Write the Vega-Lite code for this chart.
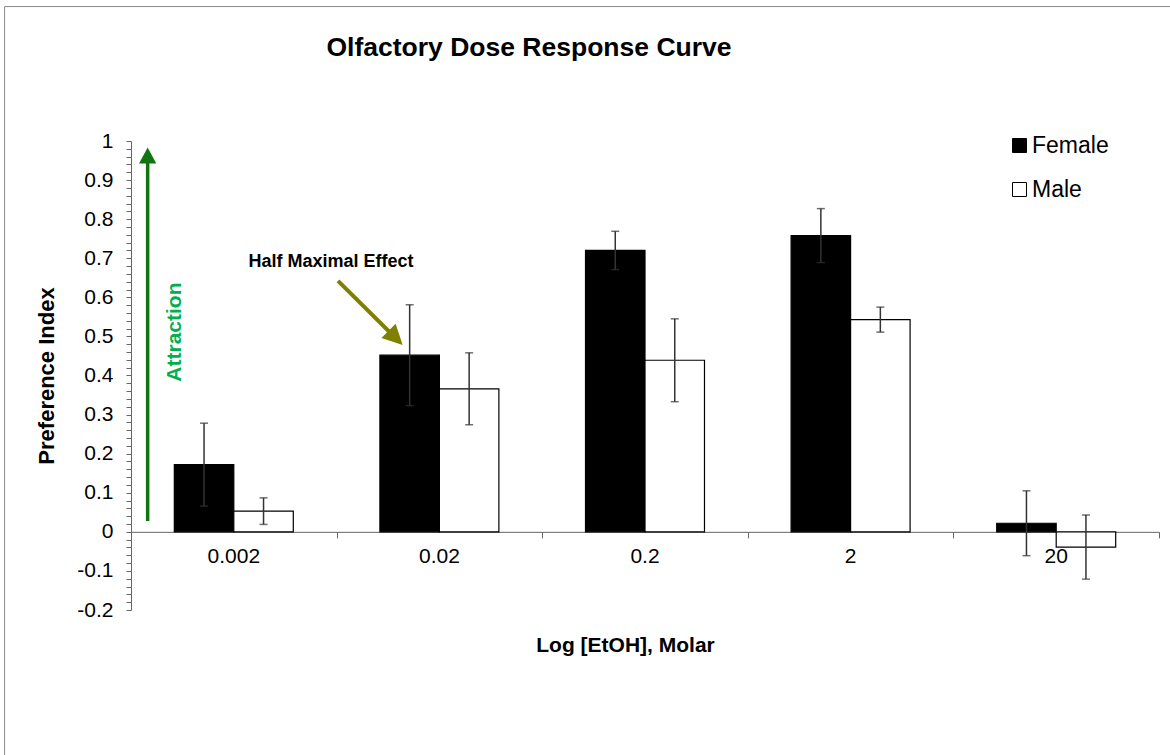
{
  "$schema": "https://vega.github.io/schema/vega-lite/v6.json",
  "width": 1028,
  "height": 469,
  "autosize": {"type": "none"},
  "padding": {"left": 131, "top": 141, "right": 11, "bottom": 145},
  "background": "white",
  "config": {
    "font": "Liberation Sans",
    "view": {"stroke": null},
    "axis": {"labelColor": "#000", "titleColor": "#000", "domainColor": "#666", "tickColor": "#666", "grid": false}
  },
  "title": {
    "text": "Olfactory Dose Response Curve",
    "fontSize": 26.5,
    "fontWeight": "bold",
    "color": "#000",
    "anchor": "middle",
    "frame": "group",
    "dx": -116,
    "offset": -55
  },
  "datasets": {
    "prefs": [
      {"dose": "0.002", "sex": "Female", "value": 0.172, "lo": 0.066, "hi": 0.278},
      {"dose": "0.002", "sex": "Male", "value": 0.053, "lo": 0.019, "hi": 0.087},
      {"dose": "0.02", "sex": "Female", "value": 0.452, "lo": 0.323, "hi": 0.581},
      {"dose": "0.02", "sex": "Male", "value": 0.366, "lo": 0.274, "hi": 0.458},
      {"dose": "0.2", "sex": "Female", "value": 0.72, "lo": 0.671, "hi": 0.769},
      {"dose": "0.2", "sex": "Male", "value": 0.439, "lo": 0.333, "hi": 0.545},
      {"dose": "2", "sex": "Female", "value": 0.758, "lo": 0.689, "hi": 0.827},
      {"dose": "2", "sex": "Male", "value": 0.543, "lo": 0.511, "hi": 0.575},
      {"dose": "20", "sex": "Female", "value": 0.022, "lo": -0.061, "hi": 0.105},
      {"dose": "20", "sex": "Male", "value": -0.039, "lo": -0.121, "hi": 0.043}
    ],
    "notes": [
      {"kind": "frame", "at": -0.615, "at2": 5.1, "level": 1.344, "level2": 1.344},
      {"kind": "frame", "at": -0.615, "at2": -0.615, "level": 1.344, "level2": -0.6},
      {"kind": "shaft", "at": 0.081, "at2": 0.081, "level": 0.028, "level2": 0.945},
      {"kind": "head", "at": 0.081, "level": 0.963},
      {"kind": "attraction", "at": 0.216, "level": 0.511, "label": "Attraction"},
      {"kind": "caption", "at": 0.973, "level": 0.691, "label": "Half Maximal Effect"},
      {"kind": "pointer", "at": 1.007, "at2": 1.287, "level": 0.642, "level2": 0.496},
      {"kind": "pointerhead", "at": 1.287, "level": 0.496}
    ]
  },
  "layer": [
    {
      "data": {"name": "prefs"},
      "mark": {"type": "bar", "stroke": "#000", "strokeWidth": 1.2},
      "encoding": {
        "x": {
          "field": "dose", "type": "nominal", "sort": null,
          "scale": {"paddingInner": 0, "paddingOuter": 0},
          "axis": {
            "orient": "bottom", "offset": -78.17, "ticks": false, "domain": true,
            "labelFontSize": 21, "labelPadding": 14, "labelAngle": 0,
            "title": "Log [EtOH], Molar", "titleFontSize": 21, "titleFontWeight": "bold",
            "titleX": 494, "titleY": 114, "titleAlign": "center", "titleBaseline": "middle"
          }
        },
        "xOffset": {"field": "sex", "type": "nominal", "sort": ["Female", "Male"], "scale": {"paddingInner": 0, "paddingOuter": 0.728}},
        "y": {
          "field": "value", "type": "quantitative",
          "scale": {"domain": [-0.2, 1], "nice": false, "zero": false},
          "axis": {
            "values": [-0.2, -0.18, -0.16, -0.14, -0.12, -0.1, -0.08, -0.06, -0.04, -0.02, 0, 0.02, 0.04, 0.06, 0.08, 0.1, 0.12, 0.14, 0.16, 0.18, 0.2, 0.22, 0.24, 0.26, 0.28, 0.3, 0.32, 0.34, 0.36, 0.38, 0.4, 0.42, 0.44, 0.46, 0.48, 0.5, 0.52, 0.54, 0.56, 0.58, 0.6, 0.62, 0.64, 0.66, 0.68, 0.7, 0.72, 0.74, 0.76, 0.78, 0.8, 0.82, 0.84, 0.86, 0.88, 0.9, 0.92, 0.94, 0.96, 0.98, 1],
            "tickCount": 200,
            "labelExpr": "round(datum.value * 50) % 5 == 0 ? '' + datum.value : ''",
            "labelOverlap": false, "labelFlush": false,
            "labelFontSize": 21, "labelPadding": 13, "tickSize": 5,
            "title": "Preference Index", "titleFontSize": 22, "titleFontWeight": "bold",
            "titleAngle": 270, "titleX": -85, "titleY": 234.5, "titleAlign": "center", "titleBaseline": "middle"
          }
        },
        "y2": {"datum": 0},
        "fill": {
          "field": "sex", "type": "nominal", "sort": ["Female", "Male"],
          "scale": {"range": ["#000000", "#ffffff"]},
          "legend": {
            "title": null, "orient": "none", "legendX": 877, "legendY": -7, "padding": 0,
            "symbolType": "square", "symbolSize": 196, "symbolStrokeColor": "#000", "symbolStrokeWidth": 1,
            "labelFontSize": 23, "labelColor": "#000", "labelOffset": 1, "rowPadding": 20
          }
        }
      }
    },
    {
      "data": {"name": "prefs"},
      "mark": {"type": "rule", "color": "#333", "strokeWidth": 1.5},
      "encoding": {
        "x": {"field": "dose", "type": "nominal", "sort": null, "scale": {"paddingInner": 0, "paddingOuter": 0}, "axis": null},
        "xOffset": {"field": "sex", "type": "nominal", "sort": ["Female", "Male"], "scale": {"paddingInner": 0, "paddingOuter": 0.728}},
        "y": {"field": "lo", "type": "quantitative", "scale": {"domain": [-0.2, 1], "nice": false, "zero": false}},
        "y2": {"field": "hi"}
      }
    },
    {
      "data": {"name": "prefs"},
      "mark": {"type": "tick", "orient": "horizontal", "size": 8, "thickness": 1.5, "color": "#333"},
      "encoding": {
        "x": {"field": "dose", "type": "nominal", "sort": null, "scale": {"paddingInner": 0, "paddingOuter": 0}, "axis": null},
        "xOffset": {"field": "sex", "type": "nominal", "sort": ["Female", "Male"], "scale": {"paddingInner": 0, "paddingOuter": 0.728}},
        "y": {"field": "lo", "type": "quantitative", "scale": {"domain": [-0.2, 1], "nice": false, "zero": false}}
      }
    },
    {
      "data": {"name": "prefs"},
      "mark": {"type": "tick", "orient": "horizontal", "size": 8, "thickness": 1.5, "color": "#333"},
      "encoding": {
        "x": {"field": "dose", "type": "nominal", "sort": null, "scale": {"paddingInner": 0, "paddingOuter": 0}, "axis": null},
        "xOffset": {"field": "sex", "type": "nominal", "sort": ["Female", "Male"], "scale": {"paddingInner": 0, "paddingOuter": 0.728}},
        "y": {"field": "hi", "type": "quantitative", "scale": {"domain": [-0.2, 1], "nice": false, "zero": false}}
      }
    },
    {
      "data": {"name": "notes"},
      "transform": [{"filter": "datum.kind == 'frame'"}],
      "mark": {"type": "rule", "color": "#8a8a8a", "strokeWidth": 1},
      "encoding": {
        "x": {
          "field": "at", "type": "quantitative",
          "scale": {"domain": [0, 5], "nice": false, "zero": false},
          "axis": {
            "orient": "bottom", "offset": -78.17, "values": [0, 1, 2, 3, 4, 5], "tickCount": 20,
            "labels": false, "domain": false, "ticks": true, "tickSize": 6, "title": null
          }
        },
        "x2": {"field": "at2"},
        "y": {"field": "level", "type": "quantitative", "scale": {"domain": [-0.2, 1], "nice": false, "zero": false}},
        "y2": {"field": "level2"}
      }
    },
    {
      "data": {"name": "notes"},
      "transform": [{"filter": "datum.kind == 'shaft'"}],
      "mark": {"type": "rule", "color": "#107510", "strokeWidth": 3.5},
      "encoding": {
        "x": {"field": "at", "type": "quantitative", "scale": {"domain": [0, 5], "nice": false, "zero": false}, "axis": null},
        "x2": {"field": "at2"},
        "y": {"field": "level", "type": "quantitative", "scale": {"domain": [-0.2, 1], "nice": false, "zero": false}},
        "y2": {"field": "level2"}
      }
    },
    {
      "data": {"name": "notes"},
      "transform": [{"filter": "datum.kind == 'head'"}],
      "mark": {"type": "point", "shape": "M0,-1L1.08,1L-1.08,1Z", "size": 256, "filled": true, "opacity": 1, "color": "#107510"},
      "encoding": {
        "x": {"field": "at", "type": "quantitative", "scale": {"domain": [0, 5], "nice": false, "zero": false}, "axis": null},
        "y": {"field": "level", "type": "quantitative", "scale": {"domain": [-0.2, 1], "nice": false, "zero": false}}
      }
    },
    {
      "data": {"name": "notes"},
      "transform": [{"filter": "datum.kind == 'pointer'"}],
      "mark": {"type": "rule", "color": "#808000", "strokeWidth": 4},
      "encoding": {
        "x": {"field": "at", "type": "quantitative", "scale": {"domain": [0, 5], "nice": false, "zero": false}, "axis": null},
        "x2": {"field": "at2"},
        "y": {"field": "level", "type": "quantitative", "scale": {"domain": [-0.2, 1], "nice": false, "zero": false}},
        "y2": {"field": "level2"}
      }
    },
    {
      "data": {"name": "notes"},
      "transform": [{"filter": "datum.kind == 'pointerhead'"}],
      "mark": {"type": "point", "shape": "M0,-1L1,1L-1,1Z", "size": 400, "angle": 135, "filled": true, "opacity": 1, "color": "#808000"},
      "encoding": {
        "x": {"field": "at", "type": "quantitative", "scale": {"domain": [0, 5], "nice": false, "zero": false}, "axis": null},
        "y": {"field": "level", "type": "quantitative", "scale": {"domain": [-0.2, 1], "nice": false, "zero": false}}
      }
    },
    {
      "data": {"name": "notes"},
      "transform": [{"filter": "datum.kind == 'attraction'"}],
      "mark": {"type": "text", "angle": 270, "fontSize": 21, "fontWeight": "bold", "color": "#00B050", "align": "center", "baseline": "middle"},
      "encoding": {
        "x": {"field": "at", "type": "quantitative", "scale": {"domain": [0, 5], "nice": false, "zero": false}, "axis": null},
        "y": {"field": "level", "type": "quantitative", "scale": {"domain": [-0.2, 1], "nice": false, "zero": false}},
        "text": {"field": "label"}
      }
    },
    {
      "data": {"name": "notes"},
      "transform": [{"filter": "datum.kind == 'caption'"}],
      "mark": {"type": "text", "fontSize": 18, "fontWeight": "bold", "color": "#000", "align": "center", "baseline": "middle"},
      "encoding": {
        "x": {"field": "at", "type": "quantitative", "scale": {"domain": [0, 5], "nice": false, "zero": false}, "axis": null},
        "y": {"field": "level", "type": "quantitative", "scale": {"domain": [-0.2, 1], "nice": false, "zero": false}},
        "text": {"field": "label"}
      }
    }
  ],
  "resolve": {"scale": {"x": "independent", "xOffset": "independent"}}
}
